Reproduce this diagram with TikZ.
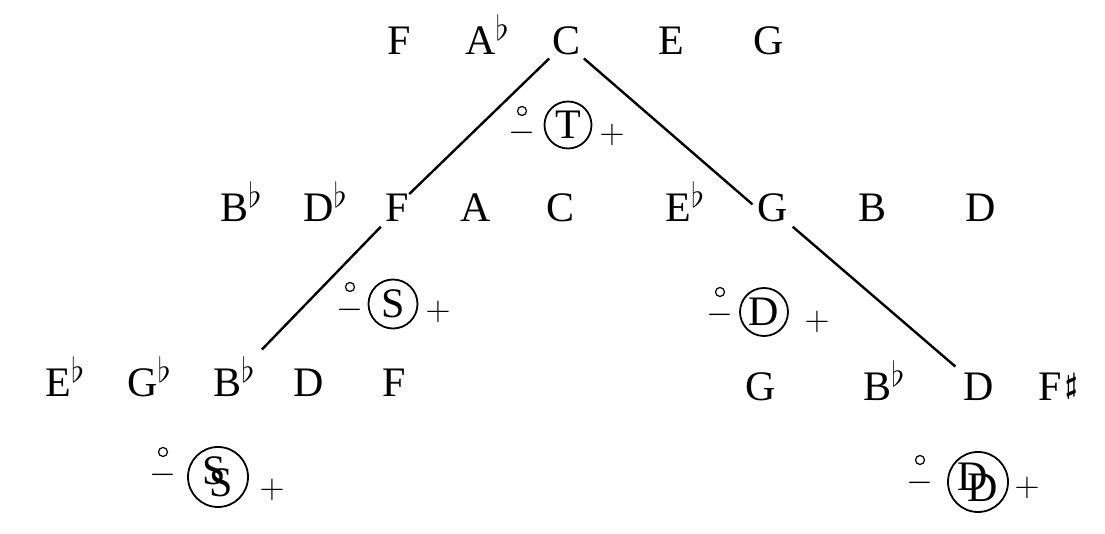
\documentclass[tikz,border=0pt]{standalone}
\usepackage{fontspec}
\setmainfont{Liberation Serif}
\usetikzlibrary{positioning}
\newcommand\flt{\raisebox{7pt}{\fontsize{16}{16}\selectfont$\flat$}}
\newcommand\shp{\raisebox{3.5pt}{\fontsize{14}{14}\selectfont\boldmath$\sharp$}}

\begin{document}
\begin{tikzpicture}[
  x=0.5pt, y=-0.5pt,
  note/.style={anchor=base west, inner sep=0pt, font=\fontsize{21}{24}\selectfont},
  fn/.style={draw, circle, inner sep=0pt, minimum size=24pt, line width=0.9pt, font=\fontsize{21}{24}\selectfont},
  sign/.style={inner sep=0pt, font=\fontsize{17}{20}\selectfont},
  ring/.style={draw, circle, inner sep=0pt, minimum size=4.5pt, line width=0.6pt},
  branch/.style={line width=1.2pt}
]
\useasboundingbox (0,0) rectangle (1105,534);
\foreach \n/\x/\t in {f1/387/F, ab1/465/A\flt, c1/552/C, e1/658/E, g1/753/G}
  \node[note] (\n) at (\x,55) {\t};
\foreach \n/\x/\t in {bb2/220/B\flt, db2/303/D\flt, f2/385/F, a2/460/A, c2/546/C, eb2/665/E\flt, g2/757/G, b2/858/B, d2/965/D}
  \node[note] (\n) at (\x,222) {\t};
\foreach \n/\x/\y/\t in {eb3/45/397/E\flt, gb3/127/397/G\flt, bb3/213/397/B\flt, d3/293/397/D, f3/382/397/F, g3/745/401/G, bb3r/863/401/B\flt, d3r/963/401/D, fs3/1038/401/F\kern1.5pt\shp}
  \node[note] (\n) at (\x,\y) {\t};
\draw[branch, shorten <=2pt] (c1.south west) -- (f2.north east);
\draw[branch, shorten <=2pt, shorten >=3pt] (c1.south east) -- (g2.west);
\draw[branch, shorten <=3pt, shorten >=5pt] (f2.south west) -- (bb3.north east);
\draw[branch, shorten <=3pt, shorten >=5pt] (g2.south east) -- (d3r.north west);
\node[fn, minimum size=23.5pt] (tonic) at (568,125) {T};
\node[sign] (tonicm) at (522,133) {$-$};
\node[ring, above=2.5pt of tonicm] (tonicr) {};
\node[sign] (tonicp) at (612,135) {$+$};
\node[fn, minimum size=24.5pt] (sub) at (393,304) {S};
\node[sign] (subm) at (350,310) {$-$};
\node[ring, above=3pt of subm] (subr) {};
\node[sign] (subp) at (438,312) {$+$};
\node[fn] (dom) at (764,312) {D};
\node[sign] (domm) at (720,315) {$-$};
\node[ring, above=3pt of domm] (domr) {};
\node[sign] (domp) at (817,322) {$+$};
\node[fn, minimum size=30pt] (subsub) at (218,477) {\rlap{S}\raisebox{-6pt}{\hspace{3.5pt}S}};
\node[sign] (subsubm) at (163,475) {$-$};
\node[ring, above=3pt of subsubm] (subsubr) {};
\node[sign] (subsubp) at (272,490) {$+$};
\node[fn, minimum size=30pt] (domdom) at (978,482) {\rlap{D}\raisebox{-5.5pt}{\hspace{5pt}D}};
\node[sign] (domdomm) at (920,483) {$-$};
\node[ring, above=3pt of domdomm] (domdomr) {};
\node[sign] (domdomp) at (1027,488) {$+$};
\end{tikzpicture}
\end{document}
